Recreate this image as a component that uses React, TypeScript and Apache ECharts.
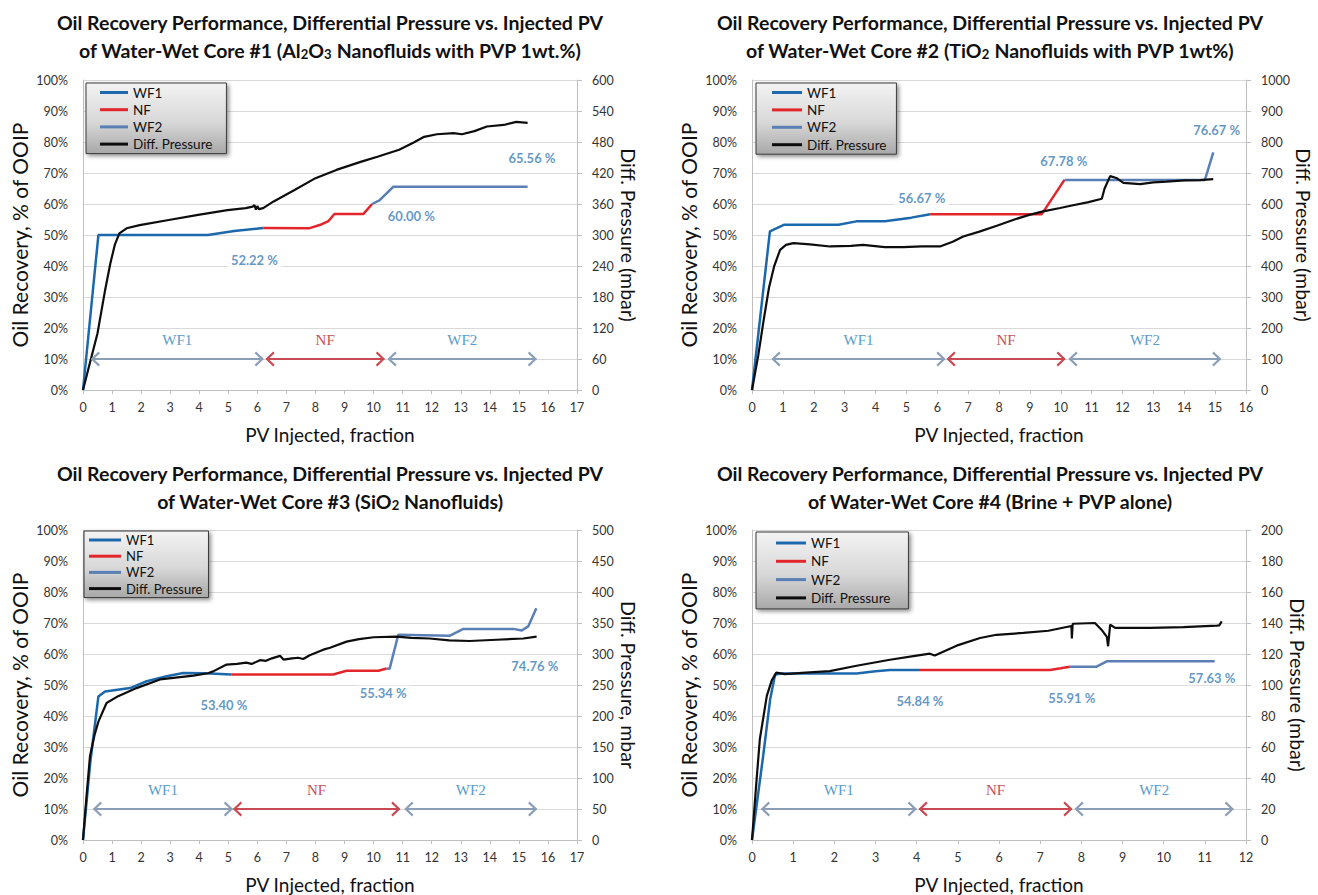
import { useEffect, useRef } from 'react';
import * as echarts from 'echarts';

type Pt = [number, number];
type Phase = [string, number, number];

const LEGEND_NAMES = ['WF1', 'NF', 'WF2', 'Diff. Pressure'];
const TITLE_LINE1 = 'Oil Recovery Performance, Differential Pressure vs. Injected PV';
const X_NAME = 'PV Injected, fraction';
const Y_NAME = 'Oil Recovery, % of OOIP';

// ---- Core #1 : Al2O3 nanofluids with PVP 1wt.% ----
const core1Wf1: Pt[] = [[0, 0], [0.53, 50], [4.3, 50], [5.2, 51.3], [6.2, 52.22]];
const core1Nf: Pt[] = [[6.2, 52.22], [7.8, 52.2], [8.2, 53.4], [8.45, 54.5], [8.65, 56.8], [9.65, 56.8], [9.95, 60.0]];
const core1Wf2: Pt[] = [[9.95, 60.0], [10.2, 61.2], [10.68, 65.56], [15.3, 65.56]];
const core1Dp: Pt[] = [
  [0, 0], [0.25, 55], [0.5, 110], [0.75, 190], [0.94, 245], [1.1, 282], [1.25, 303], [1.5, 313],
  [1.95, 319], [2.95, 329], [3.96, 339], [4.97, 348], [5.6, 352], [5.84, 355], [5.9, 358], [5.95, 349],
  [6.0, 356], [6.05, 350], [6.2, 352], [6.56, 365], [7.28, 387], [8.0, 410], [8.72, 426], [9.58, 442],
  [10.16, 452], [10.88, 465], [11.38, 479], [11.74, 490], [12.18, 495], [12.75, 497], [13.04, 495],
  [13.47, 501], [13.9, 510], [14.48, 513], [14.91, 519], [15.3, 517],
];
const core1Phases: Phase[] = [['WF1', 0.29, 6.2], ['NF', 6.3, 10.37], ['WF2', 10.5, 15.6]];
const core1LabelAt: Pt[] = [[5.9, 42], [11.3, 56], [15.45, 75]];

// ---- Core #2 : TiO2 nanofluids with PVP 1wt% ----
const core2Wf1: Pt[] = [[0, 0], [0.58, 51.2], [1.03, 53.3], [2.8, 53.3], [3.38, 54.4], [4.3, 54.4], [5.16, 55.6], [5.77, 56.67]];
const core2Nf: Pt[] = [[5.77, 56.67], [9.38, 56.67], [10.12, 67.78]];
const core2Wf2: Pt[] = [[10.12, 67.78], [14.67, 67.78], [14.94, 76.67]];
const core2Dp: Pt[] = [
  [0, 0], [0.2, 110], [0.38, 227], [0.55, 330], [0.72, 400], [0.91, 452], [1.1, 468], [1.34, 474],
  [1.88, 470], [2.53, 463], [3.2, 465], [3.6, 468], [4.3, 461], [4.9, 461], [5.5, 463], [6.09, 463],
  [6.5, 478], [6.84, 495], [7.34, 510], [7.93, 530], [8.5, 550], [8.98, 565], [9.43, 576], [9.98, 587],
  [10.4, 596], [10.9, 606], [11.33, 617], [11.42, 650], [11.6, 690], [11.8, 684], [12.03, 668],
  [12.57, 664], [13.0, 670], [13.43, 672], [14.0, 676], [14.5, 677], [14.94, 680],
];
const core2Phases: Phase[] = [['WF1', 0.65, 6.25], ['NF', 6.32, 10.14], ['WF2', 10.27, 15.18]];
const core2LabelAt: Pt[] = [[5.5, 62], [10.1, 74], [15.05, 84]];

// ---- Core #3 : SiO2 nanofluids ----
const core3Wf1: Pt[] = [[0, 0], [0.25, 25], [0.53, 46.3], [0.76, 47.9], [1.62, 49.0], [2.19, 51.2], [2.88, 52.8], [3.45, 53.9], [4.2, 53.8], [5.1, 53.4]];
const core3Nf: Pt[] = [[5.1, 53.4], [8.61, 53.4], [9.07, 54.6], [10.17, 54.6], [10.45, 55.34]];
const core3Wf2: Pt[] = [[10.45, 55.34], [10.55, 55.2], [10.85, 66.2], [12.63, 65.9], [13.09, 68.1], [14.81, 68.1], [15.1, 67.6], [15.32, 68.9], [15.6, 74.76]];
const core3Dp: Pt[] = [
  [0, 0], [0.12, 70], [0.24, 135], [0.4, 170], [0.53, 191], [0.81, 221], [1.21, 232], [1.84, 245],
  [2.65, 259], [3.8, 265], [4.3, 269], [4.48, 272], [4.94, 283], [5.3, 284], [5.62, 286], [5.8, 284],
  [6.09, 290], [6.3, 289], [6.5, 293], [6.78, 297], [6.9, 291], [7.2, 293], [7.4, 294], [7.58, 292],
  [7.8, 298], [8.27, 307], [8.5, 310], [9.07, 320], [9.5, 324], [10.0, 327], [10.79, 328], [11.3, 326],
  [11.93, 325], [12.6, 322], [13.3, 321], [14.24, 323], [15.15, 325], [15.61, 328],
];
const core3Phases: Phase[] = [['WF1', 0.36, 5.14], ['NF', 5.18, 10.9], ['WF2', 11.08, 15.61]];
const core3LabelAt: Pt[] = [[4.85, 43.6], [10.33, 47.4], [15.55, 56]];

// ---- Core #4 : brine + PVP alone ----
const core4Wf1: Pt[] = [[0, 0], [0.27, 27], [0.44, 45.3], [0.56, 53.3], [0.7, 53.7], [2.54, 53.7], [3.0, 54.4], [3.35, 54.84], [4.08, 54.84]];
const core4Nf: Pt[] = [[4.08, 54.84], [7.24, 54.84], [7.5, 55.4], [7.72, 55.91]];
const core4Wf2: Pt[] = [[7.72, 55.91], [8.37, 55.91], [8.62, 57.63], [11.24, 57.63]];
const core4Dp: Pt[] = [
  [0, 0], [0.1, 35], [0.19, 65], [0.36, 93], [0.48, 103], [0.59, 108], [0.8, 107], [1.3, 108],
  [1.89, 109], [2.54, 112.4], [3.35, 116.3], [4.0, 119], [4.32, 120.2], [4.44, 119], [4.97, 125.4],
  [5.54, 130.3], [5.94, 132.4], [6.59, 133.6], [7.2, 135], [7.64, 137.4], [7.76, 138], [7.77, 130],
  [7.79, 139.5], [8.33, 140], [8.49, 135.7], [8.62, 131], [8.65, 125], [8.7, 139], [8.82, 136.8],
  [9.67, 136.8], [10.48, 137.4], [11.29, 138.3], [11.35, 138.5], [11.41, 141],
];
const core4Phases: Phase[] = [['WF1', 0.23, 3.99], ['NF', 4.06, 7.77], ['WF2', 7.85, 11.69]];
const core4LabelAt: Pt[] = [[4.08, 45], [7.77, 45.8], [11.17, 52.3]];

const C = {
  wf1: '#1c68ad',
  nf: '#e3262b',
  wf2: '#5a7fb4',
  dp: '#0d0d0d',
  value: '#3b7db5',
  arrowWf: '#8a9fb7',
  arrowNf: '#c94a52',
  textWf: '#5a9bcb',
  textNf: '#c4525a',
  grid: '#d9d9d9',
  axis: '#bfbfbf',
  tick: '#333333',
};

const FONT = 'Lato, "Noto Sans", sans-serif';
const SERIF = '"Liberation Serif", "DejaVu Serif", serif';
// Open chevron head, tip pointing up before the mark line rotates it. A tiny
// sub-path at the top stretches the bounding box so the tip sits near the
// symbol centre, i.e. on the end point of the line.
const CHEVRON = 'path://M10,0 L10.02,0 L10,0.02 Z M0,20 L10,10 L20,20 L17.8,21.8 L10,14 L2.2,21.8 Z';

type Piece = [string, boolean];

interface Panel {
  left: number;
  top: number;
  xMax: number;
  dpMax: number;
  dpStep: number;
  dpName: string;
  wf1: Pt[];
  nf: Pt[];
  wf2: Pt[];
  dp: Pt[];
  phases: Phase[];
  labelAt: Pt[];
  titleX: number;
  titleY: number;
  line2: Piece[];
  legend: { left: number; top: number; itemWidth: number; fontSize: number; lineHeight: number; gap: number; padding: number[] };
}

const panels: Panel[] = [
  {
    left: 83, top: 80, xMax: 17, dpMax: 600, dpStep: 60, dpName: 'Diff. Pressure (mbar)',
    wf1: core1Wf1, nf: core1Nf, wf2: core1Wf2, dp: core1Dp, phases: core1Phases, labelAt: core1LabelAt,
    titleX: 330, titleY: 22,
    line2: [['of Water-Wet Core #1 (Al', false], ['2', true], ['O', false], ['3', true], [' Nanofluids with PVP 1wt.%)', false]],
    legend: { left: 86, top: 83, itemWidth: 28, fontSize: 13.5, lineHeight: 15, gap: 2.2, padding: [2, 14, 2, 14] },
  },
  {
    left: 752, top: 80, xMax: 16, dpMax: 1000, dpStep: 100, dpName: 'Diff. Pressure (mbar)',
    wf1: core2Wf1, nf: core2Nf, wf2: core2Wf2, dp: core2Dp, phases: core2Phases, labelAt: core2LabelAt,
    titleX: 990, titleY: 22,
    line2: [['of Water-Wet Core #2 (TiO', false], ['2', true], [' Nanofluids with PVP 1wt%)', false]],
    legend: { left: 756, top: 83, itemWidth: 30, fontSize: 13.5, lineHeight: 15, gap: 2.4, padding: [2, 10, 2, 16] },
  },
  {
    left: 83, top: 530, xMax: 17, dpMax: 500, dpStep: 50, dpName: 'Diff. Pressure, mbar',
    wf1: core3Wf1, nf: core3Nf, wf2: core3Wf2, dp: core3Dp, phases: core3Phases, labelAt: core3LabelAt,
    titleX: 330, titleY: 473,
    line2: [['of Water-Wet Core #3 (SiO', false], ['2', true], [' Nanofluids)', false]],
    legend: { left: 84, top: 531, itemWidth: 32, fontSize: 13, lineHeight: 14, gap: 2.2, padding: [2, 6, 2, 5] },
  },
  {
    left: 752, top: 530, xMax: 12, dpMax: 200, dpStep: 20, dpName: 'Diff. Pressure (mbar)',
    wf1: core4Wf1, nf: core4Nf, wf2: core4Wf2, dp: core4Dp, phases: core4Phases, labelAt: core4LabelAt,
    titleX: 990, titleY: 473,
    line2: [['of Water-Wet Core #4 (Brine + PVP alone)', false]],
    legend: { left: 756, top: 532, itemWidth: 30, fontSize: 13.5, lineHeight: 16, gap: 2.3, padding: [3, 18, 3, 20] },
  },
];

const PLOT_W = 494;
const PLOT_H = 310;

const last = (pts: Pt[]) => pts[pts.length - 1][1];

function buildOption(): echarts.EChartsCoreOption {
  const legendBg = new echarts.graphic.LinearGradient(0, 0, 0, 1, [
    { offset: 0, color: '#f3f3f3' },
    { offset: 0.55, color: '#d8d8d8' },
    { offset: 1, color: '#a8a8a8' },
  ]);

  const grid = panels.map((p) => ({ left: p.left, top: p.top, width: PLOT_W, height: PLOT_H }));

  const xAxis = panels.map((p, i) => ({
    type: 'value',
    gridIndex: i,
    min: 0,
    max: p.xMax,
    interval: 1,
    axisLine: { show: true, onZero: false, lineStyle: { color: C.axis } },
    axisTick: { show: true, length: 4, lineStyle: { color: C.axis } },
    axisLabel: { fontFamily: FONT, fontSize: 12.5, color: C.tick, margin: 11 },
    splitLine: { show: false },
    name: X_NAME,
    nameLocation: 'middle',
    nameGap: 35,
    nameTextStyle: { fontFamily: FONT, fontSize: 19, color: '#111' },
  }));

  const yAxis = panels.flatMap((p, i) => [
    {
      type: 'value',
      gridIndex: i,
      position: 'left',
      min: 0,
      max: 100,
      interval: 10,
      axisLine: { show: true, lineStyle: { color: C.axis } },
      axisTick: { show: false },
      axisLabel: { fontFamily: FONT, fontSize: 12.5, color: C.tick, margin: 15, formatter: '{value}%' },
      splitLine: { show: true, lineStyle: { color: C.grid, width: 1 } },
      name: Y_NAME,
      nameLocation: 'middle',
      nameGap: 53,
      nameTextStyle: { fontFamily: FONT, fontSize: 21, color: '#111' },
    },
    {
      type: 'value',
      gridIndex: i,
      position: 'right',
      min: 0,
      max: p.dpMax,
      interval: p.dpStep,
      axisLine: { show: true, lineStyle: { color: C.axis } },
      axisTick: { show: true, length: 5, lineStyle: { color: C.axis } },
      axisLabel: { fontFamily: FONT, fontSize: 12.5, color: C.tick, margin: 15, formatter: (v: number) => String(v) },
      splitLine: { show: false },
      name: p.dpName,
      nameLocation: 'middle',
      nameGap: 41,
      nameRotate: -90,
      nameTextStyle: { fontFamily: FONT, fontSize: 19.5, color: '#111' },
    },
  ]);

  const series = panels.flatMap((p, i) => {
    const lineBase = { type: 'line', xAxisIndex: i, showSymbol: false, symbol: 'none', silent: true };
    const values = [last(p.wf1), last(p.nf), last(p.wf2)];
    return [
      { ...lineBase, name: 'WF1', yAxisIndex: 2 * i, data: p.wf1, color: C.wf1, lineStyle: { width: 2.5, color: C.wf1 }, z: 3 },
      { ...lineBase, name: 'NF', yAxisIndex: 2 * i, data: p.nf, color: C.nf, lineStyle: { width: 2.5, color: C.nf }, z: 3 },
      { ...lineBase, name: 'WF2', yAxisIndex: 2 * i, data: p.wf2, color: C.wf2, lineStyle: { width: 2.5, color: C.wf2 }, z: 3 },
      { ...lineBase, name: 'Diff. Pressure', yAxisIndex: 2 * i + 1, data: p.dp, color: C.dp, lineStyle: { width: 2.2, color: C.dp }, z: 4 },
      {
        type: 'scatter',
        name: 'values' + i,
        xAxisIndex: i,
        yAxisIndex: 2 * i,
        silent: true,
        symbolSize: 1,
        itemStyle: { color: 'rgba(0,0,0,0)' },
        z: 6,
        data: p.labelAt.map((pos, k) => [pos[0], pos[1], values[k]]),
        label: {
          show: true,
          position: 'inside',
          formatter: (prm: any) => `${(prm.value[2] as number).toFixed(2)} %`,
          fontFamily: FONT,
          fontWeight: 'bold',
          fontSize: 13,
          color: C.value,
          backgroundColor: '#ffffff',
          padding: [1, 4],
        },
        markLine: {
          silent: true,
          symbol: [CHEVRON, CHEVRON],
          symbolSize: [15, 17],
          animation: false,
          data: p.phases.map(([nm, from, to]) => {
            const isNf = nm === 'NF';
            return [
              {
                coord: [from, 10],
                lineStyle: { color: isNf ? C.arrowNf : C.arrowWf, width: 2, type: 'solid' },
                label: {
                  show: true,
                  formatter: nm,
                  position: 'insideMiddleTop',
                  distance: 12,
                  fontFamily: SERIF,
                  fontSize: 15,
                  color: isNf ? C.textNf : C.textWf,
                },
              },
              { coord: [to, 10] },
            ];
          }),
        },
      },
    ];
  });

  const legend = panels.map((p) => ({
    orient: 'vertical',
    left: p.legend.left,
    top: p.legend.top,
    data: LEGEND_NAMES,
    icon: 'rect',
    itemWidth: p.legend.itemWidth,
    itemHeight: 3,
    itemGap: p.legend.gap,
    padding: p.legend.padding,
    selectedMode: false,
    textStyle: { fontFamily: FONT, fontSize: p.legend.fontSize, lineHeight: p.legend.lineHeight, color: '#111' },
    backgroundColor: legendBg,
    borderColor: '#3a3a3a',
    borderWidth: 1,
    shadowBlur: 4,
    shadowColor: 'rgba(0,0,0,0.45)',
    shadowOffsetX: 2,
    shadowOffsetY: 2,
  }));

  const titleFont = { fontFamily: FONT, fontWeight: 'bold' };
  const graphicElements = panels.flatMap((p) => [
    {
      type: 'text',
      x: p.titleX,
      y: p.titleY,
      silent: true,
      style: {
        text: TITLE_LINE1,
        ...titleFont,
        fontSize: 19.5,
        fill: '#111',
        align: 'center',
        verticalAlign: 'middle',
      },
    },
    {
      type: 'text',
      x: p.titleX,
      y: p.titleY + 26,
      silent: true,
      style: {
        text: p.line2.map(([t, sub]) => `{${sub ? 's' : 'b'}|${t}}`).join(''),
        align: 'center',
        verticalAlign: 'middle',
        rich: {
          b: { ...titleFont, fontSize: 19.5, fill: '#111', lineHeight: 24, verticalAlign: 'bottom' },
          s: { ...titleFont, fontSize: 13, fill: '#111', lineHeight: 13, verticalAlign: 'bottom' },
        },
      },
    },
  ]);

  return {
    animation: false,
    backgroundColor: '#ffffff',
    textStyle: { fontFamily: FONT },
    grid,
    xAxis,
    yAxis,
    legend,
    series,
    graphic: { elements: graphicElements },
  };
}

export default function App() {
  const ref = useRef<HTMLDivElement>(null);

  useEffect(() => {
    if (!ref.current) return;
    const chart = echarts.init(ref.current, undefined, { renderer: 'svg' });
    chart.setOption(buildOption());
    return () => chart.dispose();
  }, []);

  return (
    <div
      ref={ref}
      style={{ position: 'absolute', left: 0, top: 0, width: 1318, height: 895, background: '#fff' }}
    />
  );
}
